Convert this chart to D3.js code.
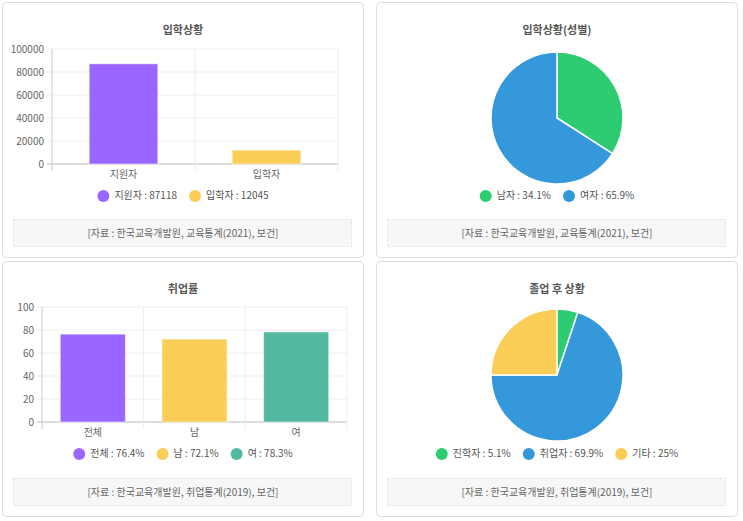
<!DOCTYPE html>
<html><head><meta charset="utf-8">
<script src="https://cdn.jsdelivr.net/npm/d3@7"></script>
<style>
body{margin:0;background:#fff;font-family:"Noto Sans CJK KR","Noto Sans",sans-serif;}
svg text{font-family:"Noto Sans CJK KR","Noto Sans",sans-serif;}
</style></head><body>
<svg id="c" width="743" height="521"></svg>
<script>
// admissions
const admitCats = ['지원자', '입학자'];
const admitVals = [87118, 12045];
const admitTicks = [0, 20000, 40000, 60000, 80000, 100000];
// gender
const genderCats = ['남자', '여자'];
const genderVals = [34.1, 65.9];
// employment rate
const empCats = ['전체', '남', '여'];
const empVals = [76.4, 72.1, 78.3];
const empTicks = [0, 20, 40, 60, 80, 100];
// after graduation
const afterCats = ['진학자', '취업자', '기타'];
const afterVals = [5.1, 69.9, 25];

const svg = d3.select('#c');

function panel(x, y, title, source) {
  const g = svg.append('g').attr('transform', `translate(${x},${y})`);
  g.append('rect').attr('x', 0.5).attr('y', 0.5).attr('width', 361).attr('height', 255)
    .attr('rx', 4).attr('fill', '#fff').attr('stroke', '#dcdcdc');
  g.append('text').attr('x', 181).attr('y', 32).attr('text-anchor', 'middle')
    .attr('font-size', 11).attr('font-weight', 'bold').attr('fill', '#555').text(title);
  g.append('rect').attr('x', 11.5).attr('y', 217.5).attr('width', 338).attr('height', 27)
    .attr('fill', '#f7f7f7').attr('stroke', '#ddd').attr('stroke-dasharray', '2,2');
  g.append('text').attr('x', 181).attr('y', 235).attr('text-anchor', 'middle')
    .attr('font-size', 10).attr('fill', '#666').text(source);
  return g;
}

function legend(g, labels, colors, y) {
  const lg = g.append('g');
  let x = 0;
  labels.forEach((t, i) => {
    const it = lg.append('g').attr('transform', `translate(${x},0)`);
    it.append('circle').attr('cx', 6).attr('cy', y - 3).attr('r', 6).attr('fill', colors[i]);
    const tx = it.append('text').attr('x', 17).attr('y', y).attr('font-size', 10).attr('fill', '#555').text(t);
    x += 17 + tx.node().getComputedTextLength() + 12;
  });
  const w = x - 12;
  lg.attr('transform', `translate(${181 - w / 2},0)`);
}

function barChart(g, cats, vals, ticks, colors, left, top, right, bottom, labels, legY, ratio) {
  const x = d3.scaleBand().domain(cats).range([left, right]).paddingInner(0).paddingOuter(0);
  const y = d3.scaleLinear().domain([0, ticks[ticks.length - 1]]).range([bottom, top]);
  const grid = g.append('g');
  ticks.forEach(t => grid.append('line').attr('x1', left - 5).attr('x2', right)
    .attr('y1', y(t)).attr('y2', y(t)).attr('stroke', t === 0 ? '#bbb' : '#eee'));
  cats.concat(['__end']).forEach((c, i) => {
    const xx = i < cats.length ? x(c) : right;
    grid.append('line').attr('x1', xx).attr('x2', xx).attr('y1', top).attr('y2', bottom + 7)
      .attr('stroke', i === 0 ? '#ccc' : '#eee');
  });
  ticks.forEach(t => g.append('text').attr('x', left - 8).attr('y', y(t) + 4).attr('text-anchor', 'end')
    .attr('font-size', 10).attr('fill', '#666').text(t));
  g.selectAll('rect.bar').data(vals).enter().append('rect').attr('class', 'bar')
    .attr('x', (d, i) => x(cats[i]) + x.bandwidth() * (1 - ratio) / 2)
    .attr('width', x.bandwidth() * ratio)
    .attr('y', d => y(d)).attr('height', d => bottom - y(d))
    .attr('fill', (d, i) => colors[i]).attr('stroke', '#fff').attr('stroke-opacity', 0.5);
  cats.forEach(c => g.append('text').attr('x', x(c) + x.bandwidth() / 2).attr('y', bottom + 14)
    .attr('text-anchor', 'middle').attr('font-size', 10).attr('fill', '#666').text(c));
  legend(g, labels, colors, legY);
}

function pieChart(g, cats, vals, colors, cx, cy, r, labels, legY) {
  const pie = d3.pie().sort(null)(vals);
  const arc = d3.arc().innerRadius(0).outerRadius(r);
  g.append('g').attr('transform', `translate(${cx},${cy})`).selectAll('path').data(pie).enter()
    .append('path').attr('d', arc).attr('fill', (d, i) => colors[i]).attr('stroke', '#fff').attr('stroke-width', 1.5);
  legend(g, labels, colors, legY);
}

const purple = '#9966ff', yellow = '#f9cd56', teal = '#52b9a0', green = '#2ecc71', blue = '#3498db';

const p1 = panel(2, 2, '입학상황', '[자료 : 한국교육개발원, 교육통계(2021), 보건]');
barChart(p1, admitCats, admitVals, admitTicks, [purple, yellow], 50, 47, 336, 162,
  admitCats.map((c, i) => `${c} : ${admitVals[i]}`), 197, 0.48);

const p2 = panel(376, 2, '입학상황(성별)', '[자료 : 한국교육개발원, 교육통계(2021), 보건]');
pieChart(p2, genderCats, genderVals, [green, blue], 181, 116, 66,
  genderCats.map((c, i) => `${c} : ${genderVals[i]}%`), 197);

const p3 = panel(2, 261, '취업률', '[자료 : 한국교육개발원, 취업통계(2019), 보건]');
barChart(p3, empCats, empVals, empTicks, [purple, yellow, teal], 40, 46, 345, 161,
  empCats.map((c, i) => `${c} : ${empVals[i]}%`), 196, 0.64);

const p4 = panel(376, 261, '졸업 후 상황', '[자료 : 한국교육개발원, 취업통계(2019), 보건]');
pieChart(p4, afterCats, afterVals, [green, blue, yellow], 181, 114, 66,
  afterCats.map((c, i) => `${c} : ${afterVals[i]}%`), 196);
</script>
</body></html>
